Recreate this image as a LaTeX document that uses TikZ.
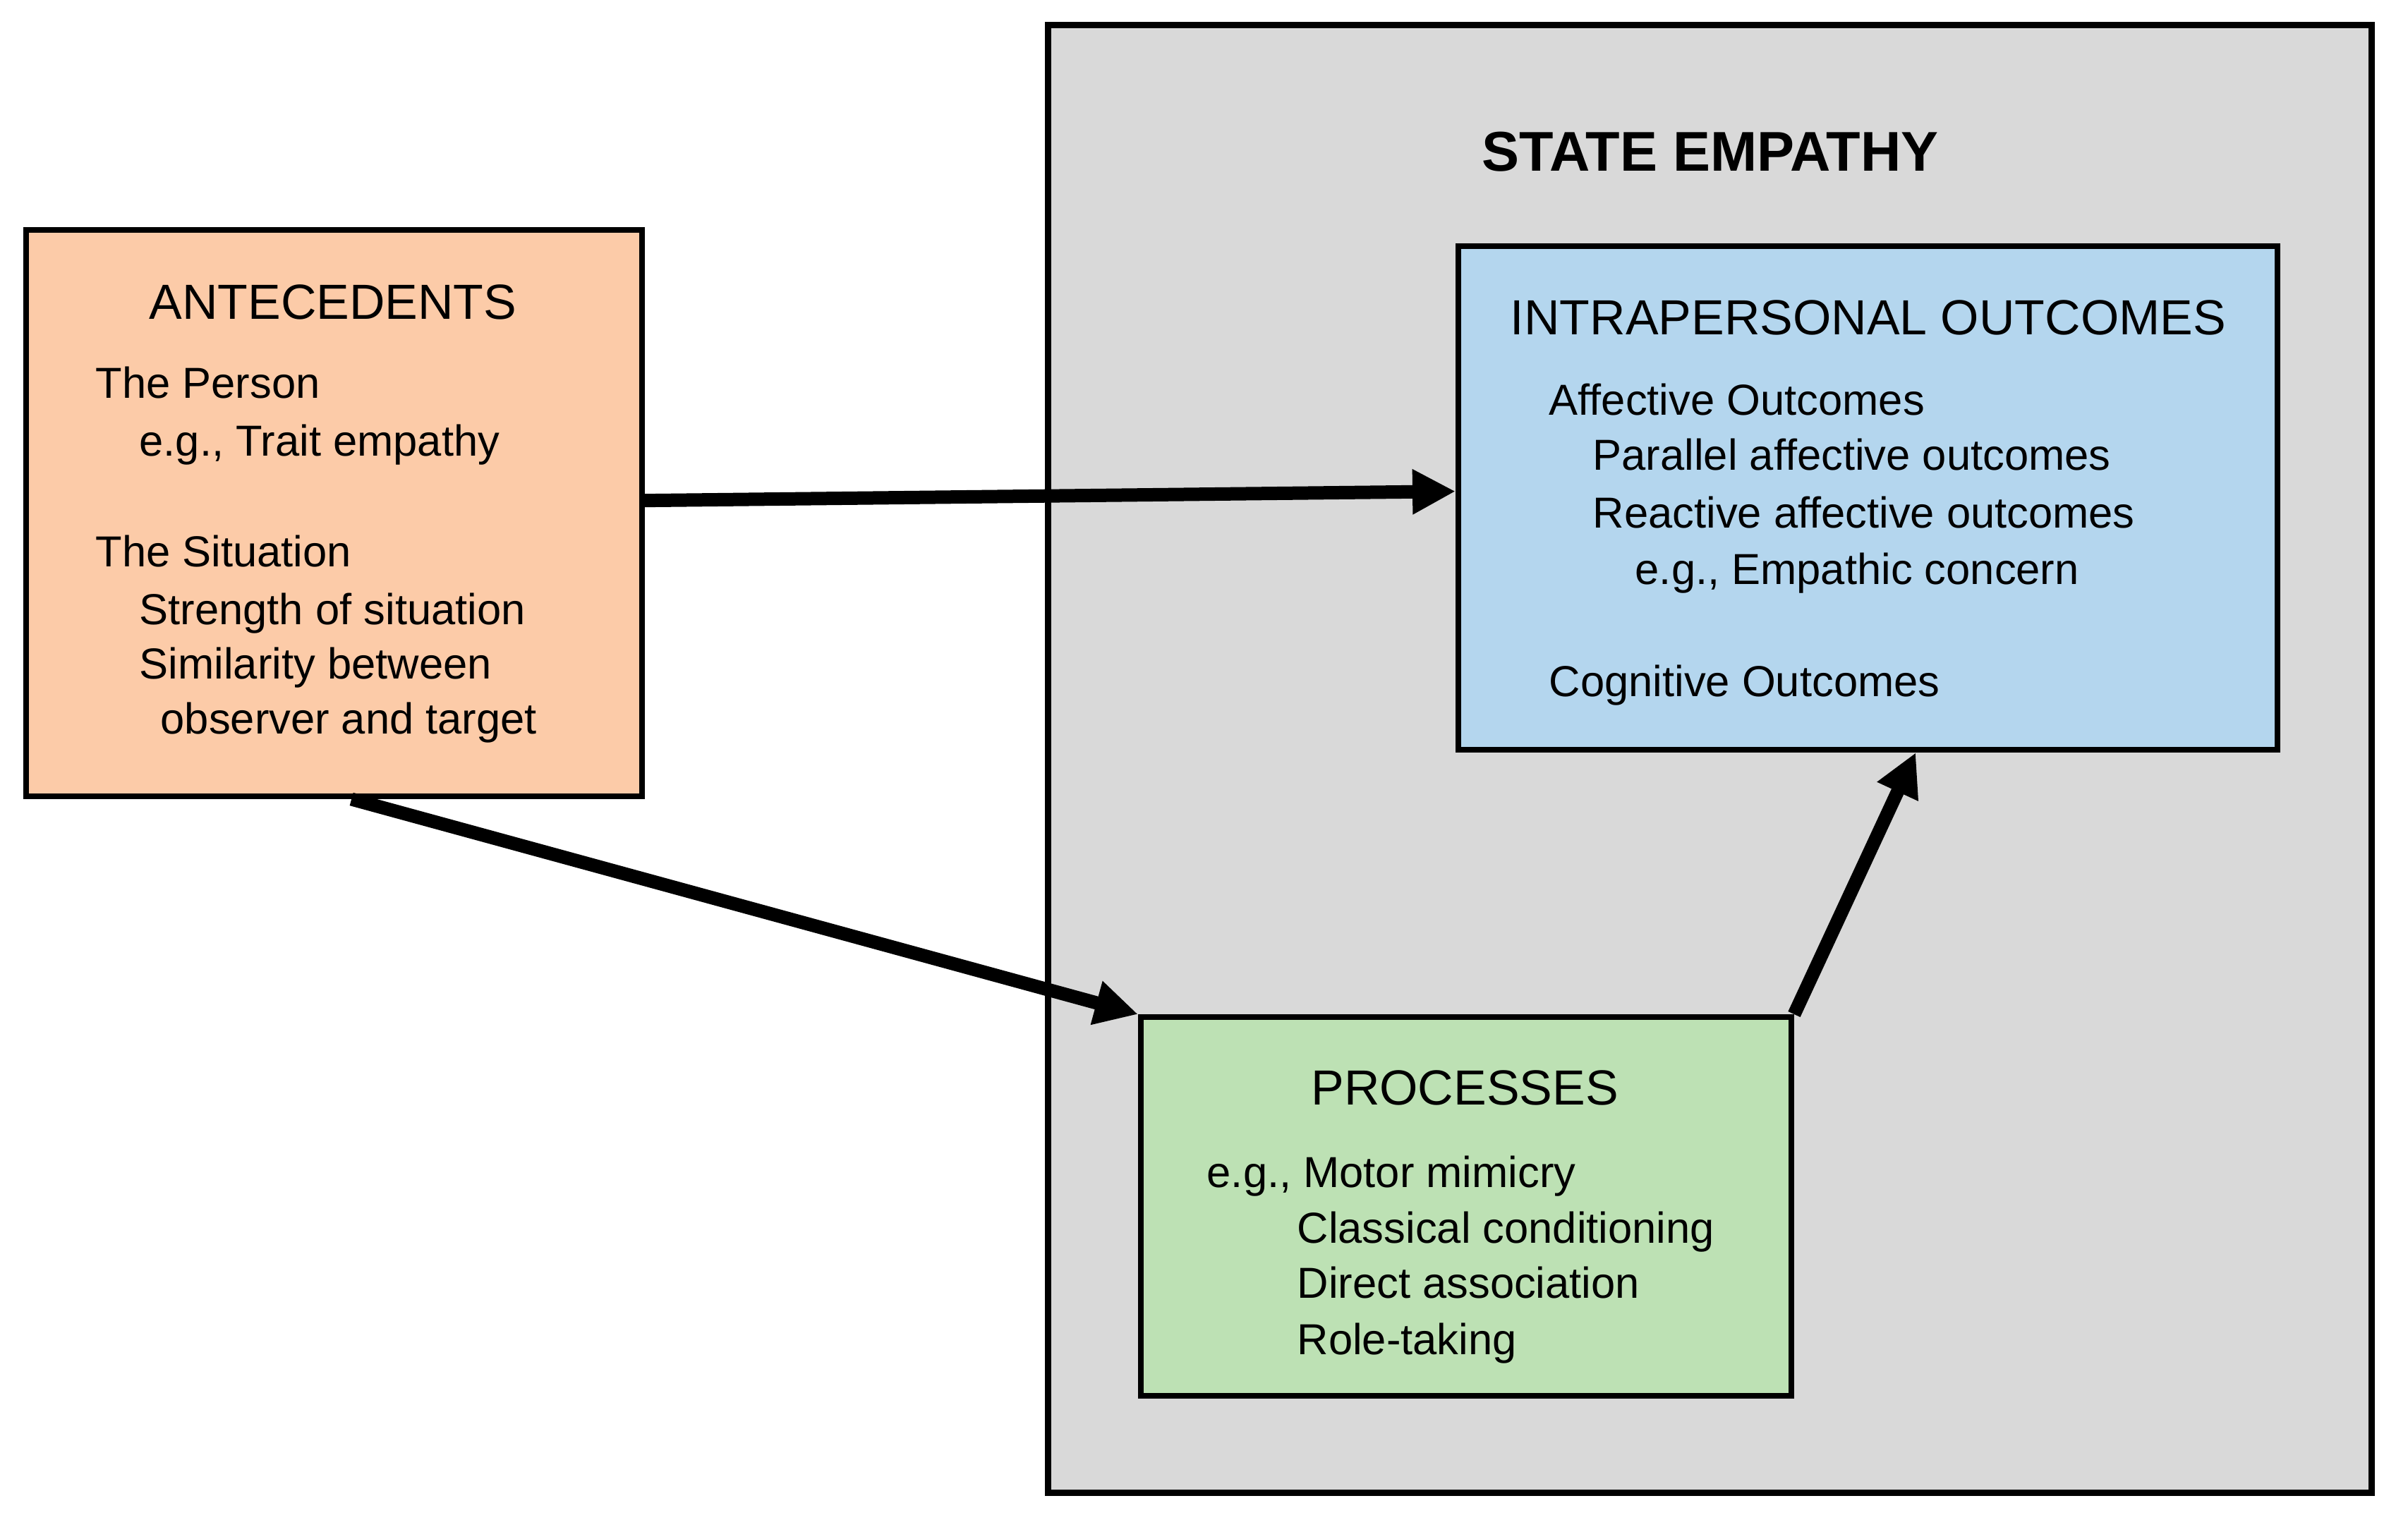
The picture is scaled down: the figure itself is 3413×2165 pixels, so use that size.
\documentclass[tikz,border=0pt]{standalone}
\usepackage{fontspec}
\setmainfont{Liberation Sans}
\usetikzlibrary{arrows.meta,calc}
\definecolor{graybg}{HTML}{D9D9D9}
\definecolor{peach}{HTML}{FCCBA8}
\definecolor{lblue}{HTML}{B4D6EE}
\definecolor{lgreen}{HTML}{BDE1B4}
\tikzset{
  box/.style={draw=black, line width=0.8mm, rectangle, inner sep=0pt},
  outerbox/.style={draw=black, line width=0.9mm, rectangle, inner sep=0pt, fill=graybg},
  body/.style={anchor=base west, inner sep=0pt, font=\fontsize{17.5pt}{21pt}\selectfont},
  head/.style={anchor=base, inner sep=0pt, font=\fontsize{19.9pt}{24pt}\selectfont},
  title/.style={anchor=base, inner sep=0pt, font=\fontsize{22.6pt}{27pt}\selectfont\bfseries},
  conn/.style={line width=1.9mm, -{Triangle[length=6.1mm,width=6.0mm]}}
}
\begin{document}
\begin{tikzpicture}[x=0.1mm,y=-0.1mm]
\useasboundingbox (0,0) rectangle (3413,2165);
% boxes
\node[outerbox, minimum width=187.6mm, minimum height=208.1mm] (state) at (2423,1075.5) {};
\node[box, fill=peach, minimum width=87.3mm, minimum height=80.3mm] (ante) at (473.5,727.5) {};
\node[box, fill=lblue, minimum width=116.1mm, minimum height=71.4mm] (intra) at (2647.5,706) {};
\node[box, fill=lgreen, minimum width=92.2mm, minimum height=53.7mm] (proc) at (2078,1710.5) {};
% title
\node[title] (stitle) at (2424,242) {STATE EMPATHY};
% antecedents text
\node[head] (ahead) at (472,452) {ANTECEDENTS};
\node[body] (a1) at (135,564) {The Person};
\node[body] (a2) at (197,646) {e.g., Trait empathy};
\node[body] (a3) at (135,803) {The Situation};
\node[body] (a4) at (197,885) {Strength of situation};
\node[body] (a5) at (197,962) {Similarity between};
\node[body] (a6) at (227,1040) {observer and target};
% intrapersonal text
\node[head] (ihead) at (2648,474) {INTRAPERSONAL OUTCOMES};
\node[body] (i1) at (2195,588) {Affective Outcomes};
\node[body] (i2) at (2257,666) {Parallel affective outcomes};
\node[body] (i3) at (2257,748) {Reactive affective outcomes};
\node[body] (i4) at (2317,828) {e.g., Empathic concern};
\node[body] (i5) at (2195,987) {Cognitive Outcomes};
% processes text
\node[head] (phead) at (2076,1566) {PROCESSES};
\node[body] (p1) at (1710,1683) {e.g., Motor mimicry};
\node[body] (p2) at (1838,1762) {Classical conditioning};
\node[body] (p3) at (1838,1840) {Direct association};
\node[body] (p4) at (1838,1920) {Role-taking};
% connectors
\draw[conn] ($(ante.north east)!0.478!(ante.south east)$) -- ($(intra.north west)!0.487!(intra.south west)$);
\draw[conn] ($(ante.south west)!0.528!(ante.south east)$) -- (proc.north west);
\draw[conn] (proc.north east) -- ($(intra.south west)!0.558!(intra.south east)$);
\end{tikzpicture}
\end{document}
